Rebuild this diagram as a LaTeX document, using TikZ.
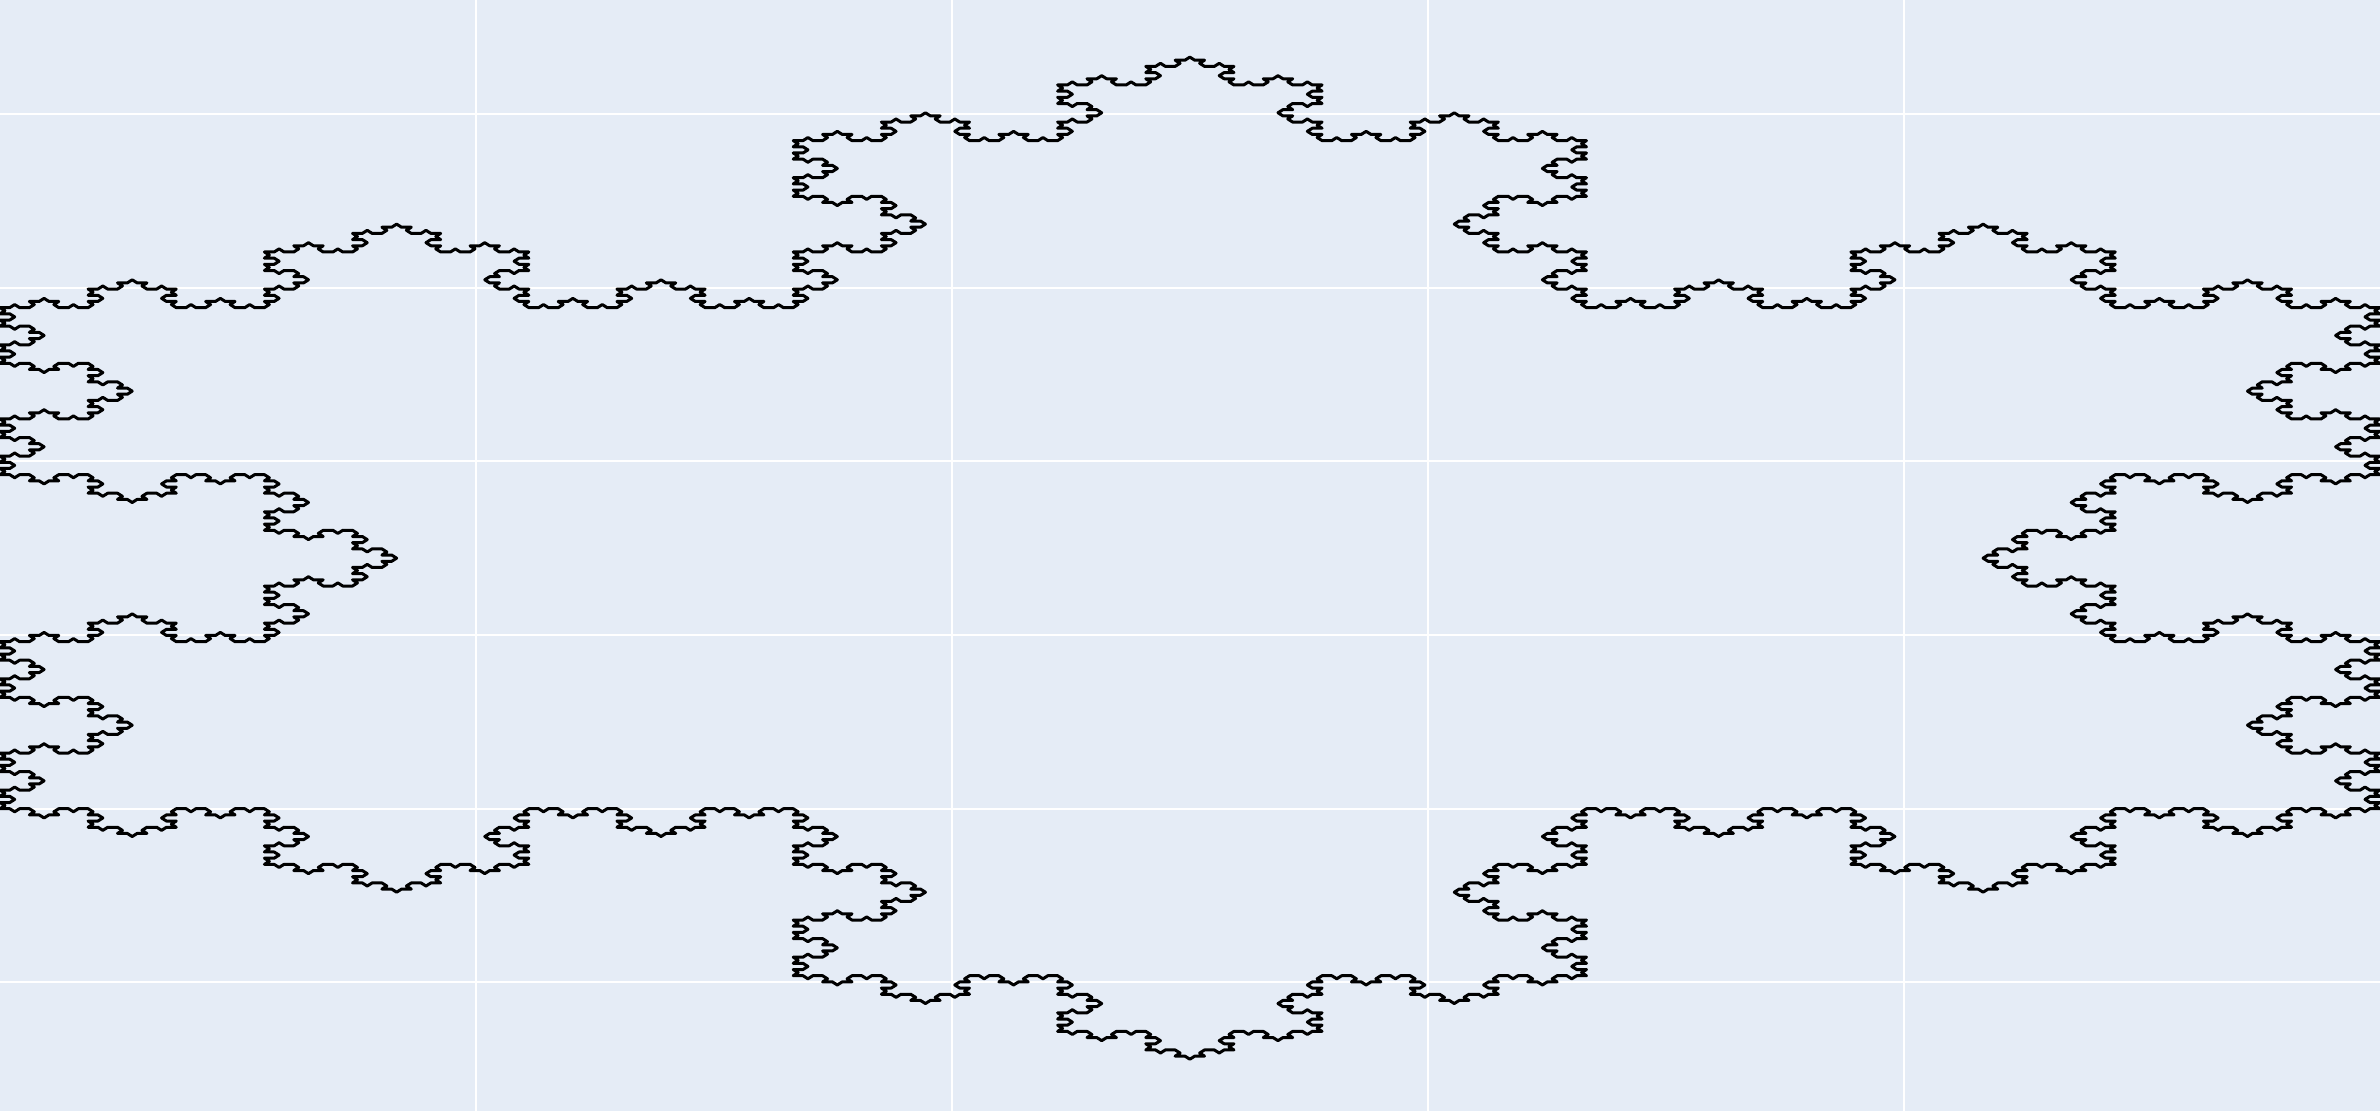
\documentclass[tikz,border=0pt]{standalone}
\definecolor{plotbg}{HTML}{E5ECF6}
\tikzset{
  gridline/.style={draw=white, line width=0.02cm},
  kochline/.style={line width=0.03cm, draw=black, line join=round}
}
% Koch curve on a triangular lattice (exact integer coordinates)
\newcount\kochA \newcount\kochB \newcount\kochD
\def\kochstep{%
  \ifcase\kochD \advance\kochA1
  \or \advance\kochB1
  \or \advance\kochA-1 \advance\kochB1
  \or \advance\kochA-1
  \or \advance\kochB-1
  \or \advance\kochA1 \advance\kochB-1
  \fi
  \edef\kochX{\the\numexpr2*\kochA+\kochB\relax}%
  \edef\kochY{\the\kochB}%
  \pgfpathlineto{\pgfpointxy{\kochX}{\kochY}}%
}
\def\kochturnL{\advance\kochD1 \ifnum\kochD>5 \advance\kochD-6 \fi}
\def\kochturnR{\advance\kochD5 \ifnum\kochD>5 \advance\kochD-6 \fi}
\def\kochcurve#1{%
  \ifnum#1=0 \kochstep
  \else
    \expandafter\kochrec\expandafter{\the\numexpr#1-1\relax}%
  \fi}
\def\kochrec#1{\kochcurve{#1}\kochturnR\kochcurve{#1}\kochturnL\kochturnL\kochcurve{#1}\kochturnR\kochcurve{#1}}
\begin{document}
\begin{tikzpicture}
  \useasboundingbox (0,0) rectangle (23.8,11.11);
  \fill[plotbg] (0,0) rectangle (23.8,11.11);
  \clip (0,0) rectangle (23.8,11.11);
  % vertical grid lines (x = 0.2, ..., 0.8)
  \foreach \gx in {4.76,9.52,14.28,19.04}
    \draw[gridline] (\gx,0) -- (\gx,11.11);
  % horizontal grid lines (y = -0.2, 0, ..., 0.8)
  \foreach \gy in {1.287,3.023,4.759,6.495,8.231,9.967}
    \draw[gridline] (0,\gy) -- (23.8,\gy);
  % Koch snowflake, order 5
  \begin{scope}[shift={(0,3.023)}, x=0.0489712cm, y=0.0309346cm]
    \kochA=0 \kochB=0 \kochD=0
    \pgfpathmoveto{\pgfpointxy{0}{0}}%
    \kochcurve{5}\kochturnL\kochturnL\kochcurve{5}\kochturnL\kochturnL\kochcurve{5}%
    \pgfpathclose
    \pgfsetlinewidth{0.03cm}%
    \pgfsetstrokecolor{black}%
    \pgfsetroundjoin
    \pgfusepath{stroke}%
  \end{scope}
\end{tikzpicture}
\end{document}
